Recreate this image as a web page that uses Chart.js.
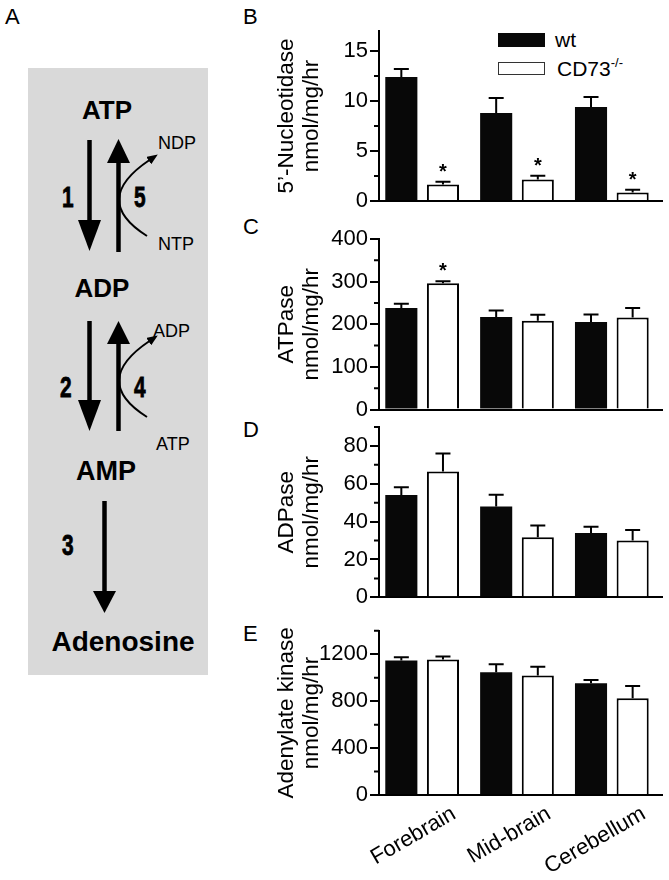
<!DOCTYPE html>
<html lang="en">
<head>
<meta charset="UTF-8">
<title>Nucleotide hydrolysis in brain regions</title>
<script src="https://cdn.jsdelivr.net/npm/chart.js"></script>
<style>
  body { margin: 0; width: 669px; height: 880px; position: relative; background: #fff;
         font-family: 'Liberation Sans', Arial, Helvetica, sans-serif; color: #000; overflow: hidden; }
  .letter { position: absolute; font-size: 22px; line-height: 22px; }
  .panel { position: absolute; left: 270px; width: 399px; }
  .swatch { position: absolute; left: 498px; width: 47px; box-sizing: border-box; }
  .legtext { position: absolute; font-size: 21px; line-height: 21px; white-space: nowrap; }
  .legtext sup { font-size: 13px; vertical-align: 0; position: relative; top: -9px; }
  #scheme { position: absolute; left: 0; top: 0; }
</style>
</head>
<body>
<div class="letter" style="left:5px;top:6px">A</div>
<div class="letter" style="left:243px;top:6px">B</div>
<div class="letter" style="left:243px;top:216px">C</div>
<div class="letter" style="left:243px;top:419px">D</div>
<div class="letter" style="left:243px;top:623px">E</div>

<!-- panel A: reaction scheme -->
<svg id="scheme" width="260" height="880" viewBox="0 0 260 880">
  <defs>
    <marker id="head" markerUnits="userSpaceOnUse" markerWidth="11" markerHeight="9" refX="1" refY="4.5" orient="auto">
      <path d="M0,0 L11,4.5 L0,9 z" fill="#000"/>
    </marker>
  </defs>
  <rect x="28" y="68" width="180" height="607" fill="#d9d9d9"/>
  <g font-family="'Liberation Sans', Arial, sans-serif" font-weight="bold" text-anchor="middle" fill="#000">
    <text x="107" y="119" font-size="26">ATP</text>
    <text x="102" y="297" font-size="26">ADP</text>
    <text x="106" y="480" font-size="27">AMP</text>
    <text x="123" y="651" font-size="28">Adenosine</text>
  </g>
  <g font-family="'Liberation Sans', Arial, sans-serif" font-size="18" fill="#000">
    <text x="158" y="149">NDP</text>
    <text x="158" y="250">NTP</text>
    <text x="153" y="337">ADP</text>
    <text x="156" y="450">ATP</text>
  </g>
  <g font-family="'Liberation Sans', Arial, sans-serif" font-weight="bold" font-size="29" fill="#000"
     stroke="#000" stroke-width="0.8">
    <text transform="translate(62,207) scale(0.72,1)">1</text>
    <text transform="translate(134,207) scale(0.72,1)">5</text>
    <text transform="translate(60,397) scale(0.72,1)">2</text>
    <text transform="translate(134,397) scale(0.72,1)">4</text>
    <text transform="translate(62,555) scale(0.72,1)">3</text>
  </g>
  <g stroke="#000" fill="none">
    <line x1="89.5" y1="140" x2="89.5" y2="224" stroke-width="4.5"/>
    <line x1="118.5" y1="252" x2="118.5" y2="160" stroke-width="4.5"/>
    <path d="M147,236 Q90,200 149.5,160" stroke-width="2" marker-end="url(#head)"/>
    <line x1="89.5" y1="321" x2="89.5" y2="404" stroke-width="4.5"/>
    <line x1="118.5" y1="431" x2="118.5" y2="341" stroke-width="4.5"/>
    <path d="M147,417 Q90,381 149.5,341" stroke-width="2" marker-end="url(#head)"/>
    <line x1="104.5" y1="501" x2="104.5" y2="594" stroke-width="4.5"/>
  </g>
  <g fill="#000">
    <polygon points="78,220 101,220 89.5,251"/>
    <polygon points="107,163 130,163 118.5,139"/>
    <polygon points="78,400 101,400 89.5,431"/>
    <polygon points="107,344 130,344 118.5,321"/>
    <polygon points="93,591 116,591 104.5,613"/>
  </g>
</svg>

<!-- legend of panel B -->
<div class="swatch" style="top:33px;height:14px;background:#080808"></div>
<div class="legtext" style="left:555px;top:29px">wt</div>
<div class="swatch" style="top:62px;height:13px;background:#fff;border:1px solid #333"></div>
<div class="legtext" style="left:557px;top:58px">CD73<sup>-/-</sup></div>

<div class="panel" style="top:0px;height:225px"><canvas id="chartB"></canvas></div>
<div class="panel" style="top:210px;height:220px"><canvas id="chartC"></canvas></div>
<div class="panel" style="top:405px;height:215px"><canvas id="chartD"></canvas></div>
<div class="panel" style="top:600px;height:280px"><canvas id="chartE"></canvas></div>

<script>
// brain regions (x categories)
const regions = ['Forebrain', 'Mid-brain', 'Cerebellum'];

// B: 5'-nucleotidase
const nucWt = [12.4, 8.8, 9.4];
const nucWtErr = [0.8, 1.5, 1.0];
const nucKo = [1.65, 2.15, 0.85];
const nucKoErr = [0.28, 0.37, 0.27];
const nucSig = [true, true, true];
const nucTicks = [0, 5, 10, 15];
const nucMinor = [2.5, 7.5, 12.5];

// C: ATPase
const atpWt = [238, 217, 205];
const atpWtErr = [10, 15, 18];
const atpKo = [296, 208, 216];
const atpKoErr = [5, 14, 22];
const atpSig = [true, false, false];
const atpTicks = [0, 100, 200, 300, 400];
const atpMinor = [50, 150, 250, 350];

// D: ADPase
const adpWt = [54, 48, 34];
const adpWtErr = [4.2, 6.2, 3.3];
const adpKo = [66.5, 31.7, 30];
const adpKoErr = [9.5, 6.3, 5.6];
const adpSig = [false, false, false];
const adpTicks = [0, 20, 40, 60, 80];
const adpMinor = [10, 30, 50, 70, 90];

// E: adenylate kinase
const akWt = [1146, 1047, 953];
const akWtErr = [29, 68, 28];
const akKo = [1155, 1018, 825];
const akKoErr = [25, 76, 105];
const akSig = [false, false, false];
const akTicks = [0, 400, 800, 1200];
const akMinor = [200, 600, 1000, 1400];

Chart.defaults.font.family = "'Liberation Sans', Arial, Helvetica, sans-serif";
Chart.defaults.color = '#000';

// draws the upper error bars and the significance stars
const errorBars = {
  id: 'errorBars',
  afterDatasetsDraw(chart) {
    const ctx = chart.ctx;
    const yScale = chart.scales.y;
    chart.data.datasets.forEach((ds, d) => {
      const meta = chart.getDatasetMeta(d);
      meta.data.forEach((bar, i) => {
        const top = yScale.getPixelForValue(ds.data[i].y + ds.errors[i]);
        ctx.save();
        ctx.strokeStyle = '#000';
        ctx.lineWidth = 2;
        ctx.beginPath();
        ctx.moveTo(bar.x, bar.y);
        ctx.lineTo(bar.x, top);
        ctx.moveTo(bar.x - 7.5, top);
        ctx.lineTo(bar.x + 7.5, top);
        ctx.stroke();
        if (ds.sig[i]) {
          ctx.fillStyle = '#000';
          ctx.font = "bold 20px 'Liberation Sans', Arial, sans-serif";
          ctx.textAlign = 'center';
          ctx.fillText('*', bar.x, top - 4);
        }
        ctx.restore();
      });
    });
  }
};

function makePanel(id, p) {
  // short minor ticks on the y axis
  const minorTicks = {
    id: 'minorTicks',
    afterDraw(chart) {
      const ctx = chart.ctx;
      const yScale = chart.scales.y;
      const x0 = chart.chartArea.left;
      ctx.save();
      ctx.strokeStyle = '#000';
      ctx.lineWidth = 2;
      ctx.beginPath();
      p.minor.forEach(v => {
        const py = yScale.getPixelForValue(v);
        ctx.moveTo(x0 - 5, py);
        ctx.lineTo(x0, py);
      });
      ctx.stroke();
      ctx.restore();
    }
  };

  new Chart(document.getElementById(id), {
    type: 'bar',
    data: {
      datasets: [{
        label: 'wt',
        data: p.wt.map((v, i) => ({x: i, y: v})),
        errors: p.wtErr,
        sig: [false, false, false],
        backgroundColor: '#080808',
        borderWidth: 0,
        categoryPercentage: 0.878,
        barPercentage: 0.771
      }, {
        label: 'CD73-/-',
        data: p.ko.map((v, i) => ({x: i, y: v})),
        errors: p.koErr,
        sig: p.sig,
        backgroundColor: '#fff',
        borderColor: '#000',
        borderWidth: 2,
        categoryPercentage: 0.878,
        barPercentage: 0.771
      }]
    },
    options: {
      responsive: true,
      maintainAspectRatio: false,
      animation: false,
      events: [],
      layout: { padding: { top: p.padTop, bottom: p.padBottom, left: 0, right: 7 } },
      plugins: { legend: { display: false }, tooltip: { enabled: false } },
      scales: {
        x: {
          type: 'linear',
          offset: false,
          min: -0.455,
          max: 2.529,
          z: 1,
          afterBuildTicks: s => { s.ticks = regions.map((r, i) => ({value: i})); },
          afterFit: s => { s.height = p.labels ? 80 : 0; },
          grid: { display: false, offset: false },
          border: { display: true, color: '#000', width: 2 },
          ticks: {
            display: p.labels,
            autoSkip: false,
            minRotation: 30,
            maxRotation: 30,
            labelOffset: 32,
            padding: -2,
            color: '#000',
            font: { size: 22 },
            callback: v => regions[v]
          }
        },
        y: {
          min: 0,
          max: p.max,
          z: 1,
          afterBuildTicks: s => { s.ticks = p.ticks.map(v => ({value: v})); },
          afterFit: s => { s.width = 109; },
          grid: { display: true, drawOnChartArea: false, drawTicks: true, tickLength: 9,
                  tickWidth: 2, tickColor: '#000', color: '#000', lineWidth: 2 },
          border: { display: true, color: '#000', width: 2 },
          ticks: { color: '#000', font: { size: 22 }, padding: 2, callback: v => String(v) },
          title: { display: true, text: p.title, color: '#000',
                   font: { size: 22.5, lineHeight: 1.1 }, padding: { top: 4.6, bottom: 0 } }
        }
      }
    },
    plugins: [errorBars, minorTicks]
  });
}

makePanel('chartB', { wt: nucWt, wtErr: nucWtErr, ko: nucKo, koErr: nucKoErr, sig: nucSig,
  ticks: nucTicks, minor: nucMinor, max: 17, title: ['5\u2019-Nucleotidase', 'nmol/mg/hr'],
  padTop: 31, padBottom: 24, labels: false });
makePanel('chartC', { wt: atpWt, wtErr: atpWtErr, ko: atpKo, koErr: atpKoErr, sig: atpSig,
  ticks: atpTicks, minor: atpMinor, max: 400, title: ['ATPase', 'nmol/mg/hr'],
  padTop: 29, padBottom: 20.5, labels: false });
makePanel('chartD', { wt: adpWt, wtErr: adpWtErr, ko: adpKo, koErr: adpKoErr, sig: adpSig,
  ticks: adpTicks, minor: adpMinor, max: 90, title: ['ADPase', 'nmol/mg/hr'],
  padTop: 22, padBottom: 22.7, labels: false });
makePanel('chartE', { wt: akWt, wtErr: akWtErr, ko: akKo, koErr: akKoErr, sig: akSig,
  ticks: akTicks, minor: akMinor, max: 1400, title: ['Adenylate kinase', 'nmol/mg/hr'],
  padTop: 30.8, padBottom: 5, labels: true });
</script>
</body>
</html>
